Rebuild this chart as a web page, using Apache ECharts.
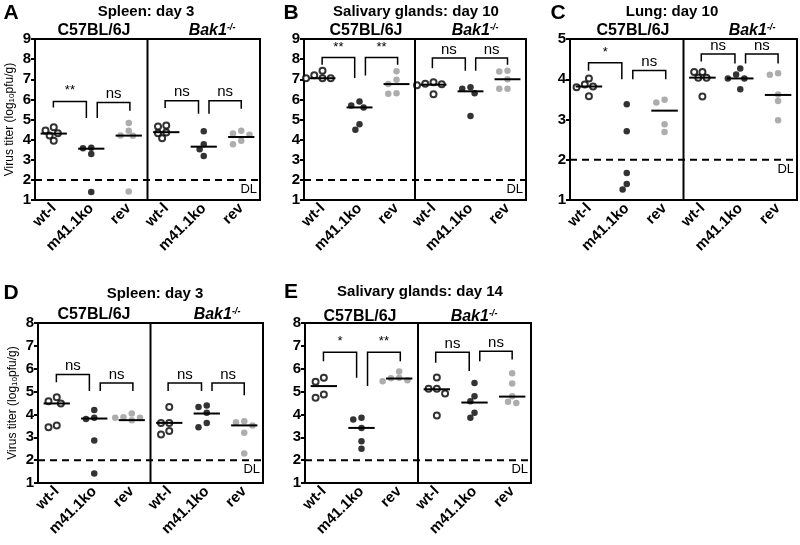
<!DOCTYPE html>
<html><head><meta charset="utf-8">
<script src="https://cdn.jsdelivr.net/npm/echarts@6/dist/echarts.min.js"></script>
<style>html,body{margin:0;padding:0;background:#fff}#c{width:800px;height:545px}</style>
</head><body><div id="c"></div>
<script>
// ---------------- DATA ----------------
const categories = ['wt-l', 'm41.1ko', 'rev', 'wt-l', 'm41.1ko', 'rev'];
const strainLeft = 'C57BL/6J';

// Panel A: Spleen day 3 (groups: C57 wt-l, ko, rev, Bak1 wt-l, ko, rev)
const A_values = [
  [4.62, 4.45, 4.32, 4.2, 3.95],
  [3.6, 3.57, 3.28, 1.4],
  [4.82, 4.44, 4.2, 4.19, 1.42],
  [4.7, 4.65, 4.35, 4.32, 4.07],
  [4.42, 3.77, 3.52, 3.19],
  [4.44, 4.3, 4.24, 3.94, 3.77]
];
const A_medians = [4.3, 3.55, 4.2, 4.37, 3.65, 4.13];
const A_brackets = [[5.9, 5.6, 5.07], [5.85, 5.07, 5.43], [5.93, 5.57, 5.28], [5.93, 5.28, 5.53]];
const A_sig = ['**', 'ns', 'ns', 'ns'];

// Panel B: Salivary glands day 10
const B_values = [
  [7.42, 7.2, 7.05, 7.05, 7.05],
  [5.9, 5.7, 5.6, 4.77, 4.49],
  [7.4, 6.98, 6.76, 6.3, 6.28],
  [6.85, 6.78, 6.75, 6.7, 6.26],
  [6.6, 6.53, 6.31, 5.18],
  [7.42, 7.39, 7.0, 6.53, 6.53]
];
const B_medians = [7.05, 5.6, 6.76, 6.73, 6.4, 7.0];
const B_brackets = [[8.08, 7.72, 7.06], [8.08, 7.19, 7.72], [8.05, 7.55, 7.42], [8.05, 7.42, 7.72]];
const B_sig = ['**', '**', 'ns', 'ns'];

// Panel C: Lung day 10
const C_values = [
  [4.02, 3.87, 3.82, 3.8, 3.58],
  [3.38, 2.71, 1.67, 1.4, 1.26],
  [3.49, 3.42, 2.88, 2.69],
  [4.18, 4.18, 4.04, 4.04, 3.57],
  [4.27, 4.12, 4.02, 4.02, 3.75],
  [4.15, 4.11, 3.62, 3.46, 2.98]
];
const C_medians = [3.82, null, 3.22, 4.04, 4.02, 3.61];
const C_brackets = [[4.41, 4.21, 4.0], [4.22, 4.0, 4.0], [4.63, 4.44, 4.39], [4.63, 4.39, 4.39]];
const C_sig = ['*', 'ns', 'ns', 'ns'];

// Panel D: Spleen day 3
const D_values = [
  [4.75, 4.58, 4.48, 3.52, 3.44],
  [4.19, 3.85, 3.8, 2.86, 1.42],
  [4.04, 3.88, 3.85, 3.85, 3.75],
  [4.33, 3.63, 3.63, 3.27, 3.12],
  [4.39, 4.33, 4.07, 3.63, 3.44],
  [3.7, 3.66, 3.52, 3.2, 2.29]
];
const D_medians = [4.48, 3.82, 3.75, 3.63, 4.04, 3.52];
const D_brackets = [[5.75, 5.41, 5.02], [5.38, 5.02, 5.02], [5.38, 5.02, 5.02], [5.38, 5.02, 4.84]];
const D_sig = ['ns', 'ns', 'ns', 'ns'];

// Panel E: Salivary glands day 14
const E_values = [
  [5.6, 5.43, 4.87, 4.73],
  [3.85, 3.78, 3.41, 2.83, 2.5],
  [5.88, 5.6, 5.58, 5.5, 5.45],
  [5.62, 5.12, 5.12, 4.92, 3.95],
  [5.38, 4.8, 4.58, 4.07, 3.85],
  [5.8, 5.35, 4.8, 4.55, 4.5]
];
const E_medians = [5.24, 3.41, 5.57, 5.1, 4.52, 4.78];
const E_brackets = [[6.72, 6.33, 5.6], [6.72, 5.24, 6.33], [6.72, 6.26, 5.9], [6.76, 6.33, 6.4]];
const E_sig = ['*', '**', 'ns', 'ns'];

const detectionLimit = 2;

// ---------------- LAYOUT ----------------
const FONT = '"Liberation Sans", Arial, Helvetica, sans-serif';
const panels = [
  {letter: 'A', title: 'Spleen: day 3', values: A_values, medians: A_medians, brackets: A_brackets, sig: A_sig,
   yMin: 1, yMax: 9, grid: {left: 35, top: 39, width: 225, height: 161}, yName: true,
   letterXY: [11, 13], titleXY: [146, 12], c57XY: [94, 31], bakXY: [212, 31]},
  {letter: 'B', title: 'Salivary glands: day 10', values: B_values, medians: B_medians, brackets: B_brackets, sig: B_sig,
   yMin: 1, yMax: 9, grid: {left: 304, top: 39, width: 222, height: 161}, yName: false,
   letterXY: [291, 13], titleXY: [416, 12], c57XY: [366, 31], bakXY: [475, 31]},
  {letter: 'C', title: 'Lung: day 10', values: C_values, medians: C_medians, brackets: C_brackets, sig: C_sig,
   yMin: 1, yMax: 5, grid: {left: 570, top: 39, width: 227, height: 161}, yName: false,
   letterXY: [558, 13], titleXY: [672, 12], c57XY: [633, 31], bakXY: [752, 31]},
  {letter: 'D', title: 'Spleen: day 3', values: D_values, medians: D_medians, brackets: D_brackets, sig: D_sig,
   yMin: 1, yMax: 8, grid: {left: 38, top: 323, width: 225, height: 160}, yName: true,
   letterXY: [11, 293], titleXY: [155, 294], c57XY: [94, 315], bakXY: [217, 315]},
  {letter: 'E', title: 'Salivary glands: day 14', values: E_values, medians: E_medians, brackets: E_brackets, sig: E_sig,
   yMin: 1, yMax: 8, grid: {left: 305, top: 323, width: 226, height: 160}, yName: false,
   letterXY: [291, 292], titleXY: [420, 292], c57XY: [360, 317], bakXY: [474, 317]}
];
const bracketSpans = [[0.49, 1.37], [1.66, 2.53], [3.47, 4.36], [4.64, 5.5]];
const medianHalf = 0.35;
const SYM_D = 7.5;

// simple beeswarm layout: spread points that would overlap
function swarm(vals, pxPerUnitY, pxPerCat, d) {
  const order = vals.map((v, i) => i).sort((a, b) => vals[b] - vals[a]);
  const placed = [];
  const off = new Array(vals.length).fill(0);
  const step = d * 0.55;
  order.forEach(i => {
    const y = vals[i] * pxPerUnitY;
    for (let k = 0; k < 40; k++) {
      const m = k === 0 ? 0 : (k % 2 ? -Math.ceil(k / 2) : Math.ceil(k / 2));
      const x = m * step;
      if (placed.every(p => Math.hypot(p[0] - x, p[1] - y) >= d * 0.85)) {
        placed.push([x, y]);
        off[i] = x / pxPerCat;
        break;
      }
    }
  });
  return off;
}

const grids = [], xAxes = [], yAxes = [], series = [], graphics = [];
const groupStyles = [
  {itemStyle: {color: '#fff', borderColor: '#000', borderWidth: 2}, symbolSize: 6},
  {itemStyle: {color: '#000'}, symbolSize: 6.5},
  {itemStyle: {color: '#999'}, symbolSize: 6.5}
];

panels.forEach((p, pi) => {
  grids.push(Object.assign({show: true, borderColor: '#000', borderWidth: 2, containLabel: false}, p.grid));
  xAxes.push({
    type: 'category', gridIndex: pi, data: categories, boundaryGap: true,
    axisLine: {lineStyle: {color: '#000', width: 2}}, axisTick: {show: false},
    axisLabel: {rotate: 45, color: '#000', fontFamily: FONT, fontWeight: 'bold', fontSize: 15, margin: 6, interval: 0},
    splitLine: {show: false}
  });
  xAxes.push({type: 'value', gridIndex: pi, min: 0, max: 6, show: false});
  yAxes.push({
    type: 'value', gridIndex: pi, min: p.yMin, max: p.yMax, interval: 1,
    axisLine: {show: true, lineStyle: {color: '#000', width: 2}},
    axisTick: {show: true, length: 4, lineStyle: {color: '#000', width: 2}},
    axisLabel: {color: '#000', fontFamily: FONT, fontWeight: 'bold', fontSize: 15, margin: 4},
    splitLine: {show: false},
    name: p.yName ? 'Virus titer (log{sub|10}pfu/g)' : '',
    nameLocation: 'middle', nameGap: 19, nameRotate: 90,
    nameTextStyle: {color: '#000', fontFamily: FONT, fontSize: 12,
      rich: {sub: {fontSize: 8, fontFamily: FONT, color: '#000', verticalAlign: 'bottom', padding: [5, 0, 0, 0]}}}
  });
  const pxY = p.grid.height / (p.yMax - p.yMin);
  const pxX = p.grid.width / 6;
  // scatter series: wt-l, m41.1ko, rev (both strains)
  [0, 1, 2].forEach(type => {
    const data = [];
    [type, type + 3].forEach(g => {
      const offs = swarm(p.values[g], pxY, pxX, SYM_D);
      p.values[g].forEach((v, i) => data.push([g + 0.5 + offs[i], v]));
    });
    series.push(Object.assign({
      type: 'scatter', xAxisIndex: pi * 2 + 1, yAxisIndex: pi, symbol: 'circle', data: data, z: 3,
      silent: true
    }, groupStyles[type]));
  });
  // annotations
  const items = [];
  items.push({t: 'line', x1: 3, y1: p.yMin, x2: 3, y2: p.yMax, w: 2});
  items.push({t: 'line', x1: 0, y1: detectionLimit, x2: 6, y2: detectionLimit, w: 2, dash: [7, 5]});
  items.push({t: 'text', x: 6, y: detectionLimit, dx: -3, dy: 3, text: 'DL', align: 'right', va: 'top', font: '13px ' + FONT});
  p.medians.forEach((m, g) => {
    if (m !== null) items.push({t: 'line', x1: g + 0.5 - medianHalf, y1: m, x2: g + 0.5 + medianHalf, y2: m, w: 2});
  });
  p.brackets.forEach((b, k) => {
    const s = bracketSpans[k];
    items.push({t: 'poly', pts: [[s[0], b[1]], [s[0], b[0]], [s[1], b[0]], [s[1], b[2]]]});
    const star = p.sig[k].indexOf('*') >= 0;
    items.push({t: 'text', x: (s[0] + s[1]) / 2, y: b[0], dx: 0, dy: star ? -4 : -1, text: p.sig[k], align: 'center', va: 'bottom',
      font: (star ? '13px ' : '15px ') + FONT});
  });
  series.push({
    type: 'custom', xAxisIndex: pi * 2 + 1, yAxisIndex: pi, z: 4, silent: true,
    data: items.map(() => [3, (p.yMin + p.yMax) / 2]),
    renderItem: (params, api) => {
      const it = items[params.dataIndex];
      if (it.t === 'line') {
        const a = api.coord([it.x1, it.y1]), b = api.coord([it.x2, it.y2]);
        return {type: 'line', shape: {x1: a[0], y1: a[1], x2: b[0], y2: b[1]},
          style: {stroke: '#000', lineWidth: it.w, lineDash: it.dash || null}};
      }
      if (it.t === 'poly') {
        return {type: 'polyline', shape: {points: it.pts.map(q => api.coord(q))},
          style: {stroke: '#000', fill: null, lineWidth: 1.5}};
      }
      const c = api.coord([it.x, it.y]);
      return {type: 'text', x: c[0] + it.dx, y: c[1] + it.dy,
        style: {text: it.text, font: it.font, fill: '#000', align: it.align, verticalAlign: it.va}};
    }
  });
  // texts
  graphics.push({type: 'text', x: p.letterXY[0], y: p.letterXY[1],
    style: {text: p.letter, font: 'bold 21px ' + FONT, fill: '#000', align: 'center', verticalAlign: 'middle'}});
  graphics.push({type: 'text', x: p.titleXY[0], y: p.titleXY[1],
    style: {text: p.title, font: 'bold 15px ' + FONT, fill: '#000', align: 'center', verticalAlign: 'middle'}});
  graphics.push({type: 'text', x: p.c57XY[0], y: p.c57XY[1],
    style: {text: strainLeft, font: 'bold 16px ' + FONT, fill: '#000', align: 'center', verticalAlign: 'middle'}});
  graphics.push({type: 'text', x: p.bakXY[0], y: p.bakXY[1],
    style: {text: '{b|Bak1}{s|-/-}', align: 'center', verticalAlign: 'middle', fill: '#000',
      rich: {b: {font: 'italic bold 16px ' + FONT, fill: '#000'},
             s: {font: 'italic bold 9px ' + FONT, fill: '#000', verticalAlign: 'top', padding: [0, 0, 6, 0]}}}});
});

const chart = echarts.init(document.getElementById('c'), null, {renderer: 'canvas'});
chart.setOption({
  animation: false,
  backgroundColor: '#fff',
  grid: grids, xAxis: xAxes, yAxis: yAxes, series: series, graphic: graphics
});
</script></body></html>
